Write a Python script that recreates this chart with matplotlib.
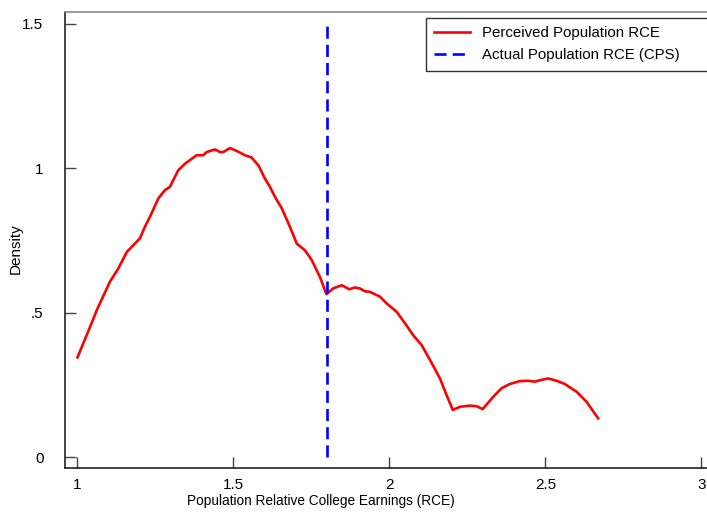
import matplotlib
matplotlib.use('Agg')
from matplotlib import pyplot as plt

# perceived population RCE density
rce_x = [1.000, 1.045, 1.062, 1.104, 1.131, 1.158, 1.200, 1.216, 1.232, 1.259,
         1.280, 1.296, 1.323, 1.345, 1.382, 1.403, 1.414, 1.441, 1.457, 1.467,
         1.489, 1.510, 1.537, 1.558, 1.580, 1.601, 1.617, 1.633, 1.655, 1.681,
         1.703, 1.729, 1.751, 1.777, 1.798, 1.820, 1.847, 1.871, 1.889, 1.905,
         1.921, 1.937, 1.970, 1.991, 2.023, 2.050, 2.076, 2.103, 2.130, 2.162,
         2.183, 2.203, 2.226, 2.258, 2.279, 2.299, 2.333, 2.359, 2.386, 2.418,
         2.445, 2.466, 2.482, 2.509, 2.536, 2.562, 2.600, 2.632, 2.669]
rce_density = [0.345, 0.463, 0.509, 0.607, 0.653, 0.710, 0.757, 0.797, 0.831, 0.895,
               0.924, 0.935, 0.993, 1.016, 1.045, 1.045, 1.056, 1.065, 1.056, 1.056,
               1.070, 1.060, 1.045, 1.037, 1.010, 0.964, 0.935, 0.901, 0.861, 0.797,
               0.739, 0.716, 0.682, 0.624, 0.564, 0.584, 0.595, 0.581, 0.587, 0.584,
               0.574, 0.572, 0.555, 0.532, 0.503, 0.463, 0.422, 0.388, 0.336, 0.272,
               0.215, 0.163, 0.174, 0.178, 0.176, 0.166, 0.209, 0.238, 0.253, 0.263,
               0.264, 0.261, 0.266, 0.272, 0.264, 0.253, 0.226, 0.191, 0.134]

actual_rce = 1.8
xticks = [1, 1.5, 2, 2.5, 3]
xtick_labels = ['1', '1.5', '2', '2.5', '3']
yticks = [0, 0.5, 1, 1.5]
ytick_labels = ['0', '.5', '1', '1.5']

plt.rcParams['font.family'] = ['Liberation Sans', 'DejaVu Sans']

W, H = 707, 512
fig = plt.figure(figsize=(W / 100, H / 100), dpi=100)
ax = fig.add_axes([65 / W, 44 / H, (707 - 65) / W, (468 - 12) / H])

ax.plot(rce_x, rce_density, color='red', lw=1.9, label='Perceived Population RCE')
ax.plot([actual_rce, actual_rce], [0, 1.505], color='blue', lw=1.9,
        dashes=(4.6, 2.3), label='Actual Population RCE (CPS)')

ax.set_xlim(0.960, 3.018)
ax.set_ylim(-0.038, 1.541)

ax.set_xticks(xticks)
ax.set_xticklabels(xtick_labels)
ax.set_yticks(yticks)
ax.set_yticklabels(ytick_labels)
ax.tick_params(axis='both', direction='in', length=8, width=1, colors='#444444',
               labelcolor='black')
ax.tick_params(axis='y', pad=15.5)
ax.tick_params(axis='x', pad=7)
for lab in ax.get_xticklabels() + ax.get_yticklabels():
    lab.set_family(['Liberation Sans Narrow', 'Liberation Sans'])
    lab.set_fontsize(11)

ax.spines['right'].set_visible(False)
ax.spines['top'].set_color('#888888')
ax.spines['top'].set_linewidth(1.2)
for s in ['left', 'bottom']:
    ax.spines[s].set_color('#222222')
    ax.spines[s].set_linewidth(1.2)

ax.set_xlabel('Population Relative College Earnings (RCE)', fontsize=9.8)
ax.xaxis.set_label_coords((321 - 65) / (707 - 65), -(494 - 468) / 456)
ax.set_ylabel('Density', fontsize=11)
ax.yaxis.set_label_coords(-(65 - 23) / (707 - 65), (468 - 249) / 456)

x0 = (426 - 65) / (707 - 65)
x1 = (730 - 65) / (707 - 65)
y1 = (468 - 18) / 456
leg = ax.legend(loc='upper left', bbox_to_anchor=(x0, 0, x1 - x0, y1), mode='expand',
                fontsize=10.8, frameon=True, fancybox=False, handlelength=2.4,
                labelspacing=0.55, borderpad=0.55, handletextpad=0.8, borderaxespad=0)
leg.get_frame().set_edgecolor('black')
leg.get_frame().set_linewidth(1.0)

plt.savefig('out.png', dpi=100)
